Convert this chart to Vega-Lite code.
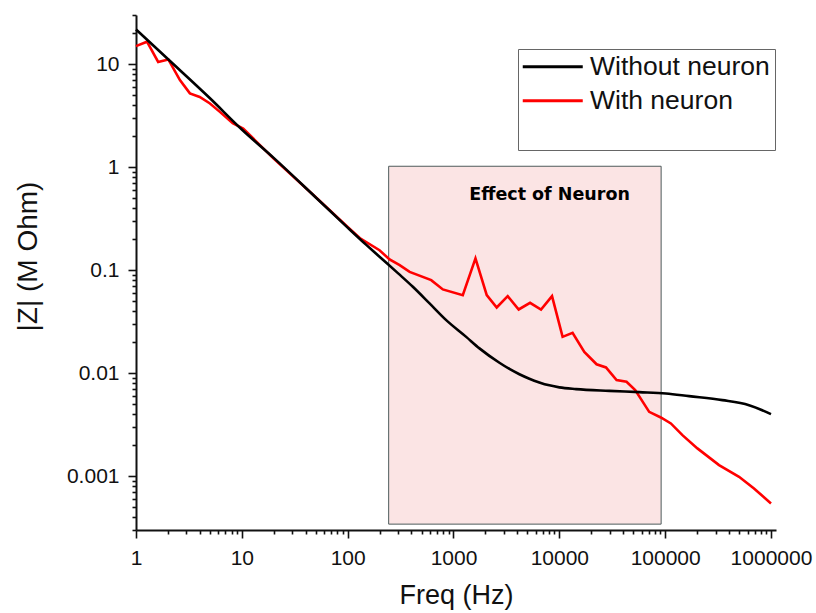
{
  "$schema": "https://vega.github.io/schema/vega-lite/v6.json",
  "width": 640,
  "height": 515,
  "autosize": {"type": "none"},
  "padding": {"left": 136, "top": 15, "right": 40, "bottom": 83},
  "background": "white",
  "config": {"view": {"stroke": null}, "font": "Liberation Sans"},
  "datasets": {
    "curves": [
      {"series": "With neuron", "freq": 1, "z": 14.95},
      {"series": "With neuron", "freq": 1.27, "z": 16.5},
      {"series": "With neuron", "freq": 1.62, "z": 10.5},
      {"series": "With neuron", "freq": 2.02, "z": 11.1},
      {"series": "With neuron", "freq": 2.6, "z": 7.0},
      {"series": "With neuron", "freq": 3.23, "z": 5.2},
      {"series": "With neuron", "freq": 4.0, "z": 4.8},
      {"series": "With neuron", "freq": 5.0, "z": 4.15},
      {"series": "With neuron", "freq": 6.2, "z": 3.44},
      {"series": "With neuron", "freq": 8.2, "z": 2.67},
      {"series": "With neuron", "freq": 10.3, "z": 2.37},
      {"series": "With neuron", "freq": 20, "z": 1.21},
      {"series": "With neuron", "freq": 50, "z": 0.51},
      {"series": "With neuron", "freq": 100, "z": 0.262},
      {"series": "With neuron", "freq": 130, "z": 0.205},
      {"series": "With neuron", "freq": 200, "z": 0.156},
      {"series": "With neuron", "freq": 249, "z": 0.127},
      {"series": "With neuron", "freq": 310, "z": 0.112},
      {"series": "With neuron", "freq": 385, "z": 0.0962},
      {"series": "With neuron", "freq": 616, "z": 0.08},
      {"series": "With neuron", "freq": 793, "z": 0.065},
      {"series": "With neuron", "freq": 1224, "z": 0.0572},
      {"series": "With neuron", "freq": 1613, "z": 0.13},
      {"series": "With neuron", "freq": 2061, "z": 0.0572},
      {"series": "With neuron", "freq": 2560, "z": 0.0434},
      {"series": "With neuron", "freq": 3251, "z": 0.056},
      {"series": "With neuron", "freq": 4130, "z": 0.0415},
      {"series": "With neuron", "freq": 5290, "z": 0.0482},
      {"series": "With neuron", "freq": 6715, "z": 0.0415},
      {"series": "With neuron", "freq": 8530, "z": 0.056},
      {"series": "With neuron", "freq": 10740, "z": 0.0225},
      {"series": "With neuron", "freq": 13340, "z": 0.0246},
      {"series": "With neuron", "freq": 17220, "z": 0.0161},
      {"series": "With neuron", "freq": 22480, "z": 0.0122},
      {"series": "With neuron", "freq": 27600, "z": 0.01136},
      {"series": "With neuron", "freq": 34740, "z": 0.00855},
      {"series": "With neuron", "freq": 43150, "z": 0.00824},
      {"series": "With neuron", "freq": 52120, "z": 0.00684},
      {"series": "With neuron", "freq": 70630, "z": 0.00421},
      {"series": "With neuron", "freq": 91000, "z": 0.00371},
      {"series": "With neuron", "freq": 113200, "z": 0.00325},
      {"series": "With neuron", "freq": 145600, "z": 0.0025},
      {"series": "With neuron", "freq": 201700, "z": 0.00186},
      {"series": "With neuron", "freq": 323000, "z": 0.00128},
      {"series": "With neuron", "freq": 499000, "z": 0.000985},
      {"series": "With neuron", "freq": 691000, "z": 0.00076},
      {"series": "With neuron", "freq": 1000000, "z": 0.000543},
      {"series": "Without neuron", "freq": 1, "z": 21.7},
      {"series": "Without neuron", "freq": 2, "z": 11.2},
      {"series": "Without neuron", "freq": 5, "z": 4.66},
      {"series": "Without neuron", "freq": 10, "z": 2.32},
      {"series": "Without neuron", "freq": 20, "z": 1.23},
      {"series": "Without neuron", "freq": 50, "z": 0.508},
      {"series": "Without neuron", "freq": 100, "z": 0.259},
      {"series": "Without neuron", "freq": 150, "z": 0.176},
      {"series": "Without neuron", "freq": 200, "z": 0.135},
      {"series": "Without neuron", "freq": 300, "z": 0.093},
      {"series": "Without neuron", "freq": 413, "z": 0.0689},
      {"series": "Without neuron", "freq": 594, "z": 0.0475},
      {"series": "Without neuron", "freq": 853, "z": 0.0327},
      {"series": "Without neuron", "freq": 1318, "z": 0.0225},
      {"series": "Without neuron", "freq": 1759, "z": 0.0174},
      {"series": "Without neuron", "freq": 2716, "z": 0.01262},
      {"series": "Without neuron", "freq": 3375, "z": 0.01099},
      {"series": "Without neuron", "freq": 4196, "z": 0.00976},
      {"series": "Without neuron", "freq": 5210, "z": 0.00883},
      {"series": "Without neuron", "freq": 6475, "z": 0.00813},
      {"series": "Without neuron", "freq": 8050, "z": 0.00761},
      {"series": "Without neuron", "freq": 10000, "z": 0.00727},
      {"series": "Without neuron", "freq": 14380, "z": 0.007},
      {"series": "Without neuron", "freq": 29640, "z": 0.00673},
      {"series": "Without neuron", "freq": 56900, "z": 0.00654},
      {"series": "Without neuron", "freq": 101600, "z": 0.00635},
      {"series": "Without neuron", "freq": 168400, "z": 0.00598},
      {"series": "Without neuron", "freq": 347400, "z": 0.00547},
      {"series": "Without neuron", "freq": 619700, "z": 0.00489},
      {"series": "Without neuron", "freq": 1000000, "z": 0.004}
    ],
    "region": [
      {"freq": 244, "freq2": 91600, "z": 1.02, "z2": 0.000342}
    ],
    "note": [
      {"freq": 8090, "z": 0.478, "label": "Effect of Neuron"}
    ]
  },
  "encoding": {
    "x": {
      "field": "freq",
      "type": "quantitative",
      "scale": {"type": "log", "domain": [1, 1115000], "nice": false},
      "axis": {
        "title": "Freq (Hz)",
        "values": [1,2,3,4,5,6,7,8,9,10,20,30,40,50,60,70,80,90,100,200,300,400,500,600,700,800,900,1000,2000,3000,4000,5000,6000,7000,8000,9000,10000,20000,30000,40000,50000,60000,70000,80000,90000,100000,200000,300000,400000,500000,600000,700000,800000,900000,1000000],
        "labelExpr": "abs(log(datum.value)/LN10 - round(log(datum.value)/LN10)) < 1e-6 ? format(datum.value, 'd') : ''",
        "grid": false,
        "domainColor": "#111",
        "domainWidth": 2,
        "tickColor": "#111",
        "tickWidth": 1.6,
        "tickSize": {"condition": {"test": "abs(log(datum.value)/LN10 - round(log(datum.value)/LN10)) < 1e-6", "value": 8}, "value": 4},
        "labelFlush": false,
        "labelBound": false,
        "labelOverlap": false,
        "labelFont": "Liberation Sans",
        "labelFontSize": 21,
        "labelColor": "#111",
        "labelPadding": 9,
        "titleFont": "Liberation Sans",
        "titleFontSize": 27,
        "titleFontWeight": "normal",
        "titleColor": "#111",
        "titleBaseline": "alphabetic",
        "titleY": 73
      }
    },
    "y": {
      "field": "z",
      "type": "quantitative",
      "scale": {"type": "log", "domain": [0.0003, 30], "nice": false},
      "axis": {
        "title": "|Z| (M Ohm)",
        "values": [0.0003,0.0004,0.0005,0.0006,0.0007,0.0008,0.0009,0.001,0.002,0.003,0.004,0.005,0.006,0.007,0.008,0.009,0.01,0.02,0.03,0.04,0.05,0.06,0.07,0.08,0.09,0.1,0.2,0.3,0.4,0.5,0.6,0.7,0.8,0.9,1,2,3,4,5,6,7,8,9,10,20,30],
        "labelExpr": "abs(log(datum.value)/LN10 - round(log(datum.value)/LN10)) < 1e-6 ? (datum.value >= 1 ? format(datum.value, 'd') : format(datum.value, '~g')) : ''",
        "grid": false,
        "domainColor": "#111",
        "domainWidth": 2,
        "tickColor": "#111",
        "tickWidth": 1.6,
        "tickSize": {"condition": {"test": "abs(log(datum.value)/LN10 - round(log(datum.value)/LN10)) < 1e-6", "value": 8}, "value": 4},
        "labelFlush": false,
        "labelBound": false,
        "labelOverlap": false,
        "labelFont": "Liberation Sans",
        "labelFontSize": 21,
        "labelColor": "#111",
        "labelPadding": 9,
        "titleFont": "Liberation Sans",
        "titleFontSize": 28,
        "titleFontWeight": "normal",
        "titleColor": "#111",
        "titleAngle": -90,
        "titleAlign": "center",
        "titleBaseline": "alphabetic",
        "titleX": -99.5,
        "titleY": 241
      }
    }
  },
  "layer": [
    {
      "data": {"name": "region"},
      "mark": {"type": "rect", "fill": "#fbe4e4", "stroke": "#4d5b5b", "strokeWidth": 1},
      "encoding": {
        "x2": {"field": "freq2"},
        "y2": {"field": "z2"}
      }
    },
    {
      "data": {"name": "note"},
      "mark": {"type": "text", "font": "DejaVu Sans", "fontWeight": "bold", "fontSize": 17.5, "align": "center", "baseline": "alphabetic", "color": "#000"},
      "encoding": {
        "text": {"field": "label"}
      }
    },
    {
      "data": {"name": "curves"},
      "transform": [{"filter": "datum.series === 'With neuron'"}],
      "mark": {"type": "line", "strokeWidth": 2.6},
      "encoding": {
        "color": {
          "field": "series",
          "type": "nominal",
          "scale": {"domain": ["Without neuron", "With neuron"], "range": ["#000000", "#ff0000"]},
          "legend": {
            "title": " ",
            "titleOrient": "bottom",
            "titleFontSize": 20,
            "titlePadding": 11,
            "orient": "none",
            "legendX": 382,
            "legendY": 34,
            "fillColor": "white",
            "strokeColor": "#666",
            "cornerRadius": 0,
            "padding": 4.5,
            "symbolType": "M-3,0H3",
            "symbolSize": 400,
            "symbolStrokeWidth": 3,
            "symbolOffset": 17,
            "labelOffset": 24,
            "rowPadding": 7,
            "labelFont": "Liberation Sans",
            "labelFontSize": 26.5,
            "labelColor": "#111",
            "labelLimit": 400
          }
        }
      }
    },
    {
      "data": {"name": "curves"},
      "transform": [{"filter": "datum.series === 'Without neuron'"}],
      "mark": {"type": "line", "strokeWidth": 2.6, "interpolate": "monotone"},
      "encoding": {
        "color": {
          "field": "series",
          "type": "nominal",
          "scale": {"domain": ["Without neuron", "With neuron"], "range": ["#000000", "#ff0000"]}
        }
      }
    }
  ]
}
